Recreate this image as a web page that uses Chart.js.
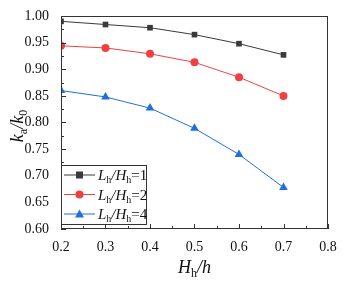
<!DOCTYPE html>
<html>
<head>
<meta charset="utf-8">
<script src="https://cdn.jsdelivr.net/npm/chart.js@4.4.1/dist/chart.umd.min.js"></script>
<style>
  html, body { margin: 0; padding: 0; background: #fff; }
  #wrap { width: 349px; height: 283px; }
</style>
</head>
<body>
<div id="wrap"><canvas id="kChart" width="349" height="283"></canvas></div>
<script>
// H_h/h values
const xVals = [0.2, 0.3, 0.4, 0.5, 0.6, 0.7];
// k_a/k_0 for each L_h/H_h ratio
const ratio1 = [0.990, 0.984, 0.978, 0.965, 0.948, 0.927];
const ratio2 = [0.944, 0.940, 0.929, 0.913, 0.885, 0.850];
const ratio4 = [0.860, 0.848, 0.827, 0.789, 0.740, 0.678];
const legendNums = ['1', '2', '4'];

const serif = '"Liberation Serif", "DejaVu Serif", serif';

function pts(arr) {
  return arr.map((v, i) => ({ x: xVals[i], y: v }));
}

// draw text with subscripts, parts = [[text, isSub, italic?], ...]
function drawRich(ctx, parts, x, y, size, italic) {
  let cx = x;
  parts.forEach(p => {
    const sub = p[1];
    const it = p[2] === undefined ? italic : p[2];
    ctx.font = (it ? 'italic ' : '') + (sub ? Math.round(size * 0.65) : size) + 'px ' + serif;
    ctx.fillText(p[0], cx, sub ? y + size * 0.22 : y);
    cx += ctx.measureText(p[0]).width;
  });
  return cx - x;
}
function richWidth(ctx, parts, size, italic) {
  let w = 0;
  parts.forEach(p => {
    const it = p[2] === undefined ? italic : p[2];
    ctx.font = (it ? 'italic ' : '') + (p[1] ? Math.round(size * 0.65) : size) + 'px ' + serif;
    w += ctx.measureText(p[0]).width;
  });
  return w;
}

const decor = {
  id: 'decor',
  afterDatasetsDraw(chart) {
    const ctx = chart.ctx;
    const a = chart.chartArea;
    const xs = chart.scales.x, ys = chart.scales.y;
    ctx.save();
    ctx.strokeStyle = '#333';
    ctx.lineWidth = 1;
    ctx.strokeRect(a.left + 0.5, a.top + 0.5, a.right - a.left - 1, a.bottom - a.top - 1);

    // inward ticks
    ctx.beginPath();
    for (let v = 0.2; v <= 0.8001; v += 0.05) {
      const px = Math.round(xs.getPixelForValue(v)) + 0.5;
      const major = Math.abs(Math.round(v * 10) - v * 10) < 1e-6;
      ctx.moveTo(px, a.bottom);
      ctx.lineTo(px, a.bottom - (major ? 5 : 3));
    }
    for (let v = 0.6; v <= 1.0001; v += 0.025) {
      const py = Math.round(ys.getPixelForValue(v)) + 0.5;
      const major = Math.abs(Math.round(v * 20) - v * 20) < 1e-6;
      ctx.moveTo(a.left, py);
      ctx.lineTo(a.left + (major ? 5 : 3), py);
    }
    ctx.stroke();

    ctx.fillStyle = '#111';
    ctx.textBaseline = 'alphabetic';
    // x title  H_h/h
    const xt = [['H', false], ['h', true, false], ['/h', false]];
    const xw = richWidth(ctx, xt, 18, true);
    drawRich(ctx, xt, (a.left + a.right) / 2 - xw / 2, 273, 18, true);

    // y title k_a/k_0
    const yt = [['k', false], ['a', true, false], ['/k', false], ['0', true, false]];
    const yw = richWidth(ctx, yt, 18, true);
    ctx.save();
    ctx.translate(23, 126);
    ctx.rotate(-Math.PI / 2);
    drawRich(ctx, yt, -yw / 2, 0, 18, true);
    ctx.restore();

    // legend
    const lx = a.left, ly = 165, lw = 85, lh = 59;
    ctx.fillStyle = '#fff';
    ctx.fillRect(lx, ly, lw, lh);
    ctx.strokeStyle = '#333';
    ctx.strokeRect(lx + 0.5, ly + 0.5, lw, lh);
    chart.data.datasets.forEach((ds, i) => {
      const ry = 175 + i * 19.5;
      ctx.strokeStyle = ds.borderColor;
      ctx.lineWidth = 1;
      ctx.beginPath();
      ctx.moveTo(lx + 3, ry);
      ctx.lineTo(lx + 34, ry);
      ctx.stroke();
      ctx.fillStyle = ds.backgroundColor;
      const mx = lx + 18.5;
      ctx.beginPath();
      if (ds.pointStyle === 'rect') {
        ctx.fillRect(mx - 3.5, ry - 3.5, 7, 7);
      } else if (ds.pointStyle === 'circle') {
        ctx.arc(mx, ry, 4, 0, Math.PI * 2);
        ctx.fill();
      } else {
        ctx.moveTo(mx, ry - 4.5);
        ctx.lineTo(mx + 4.5, ry + 3.5);
        ctx.lineTo(mx - 4.5, ry + 3.5);
        ctx.closePath();
        ctx.fill();
      }
      ctx.fillStyle = '#111';
      drawRich(ctx, [['L', false], ['h', true, false], ['/H', false], ['h', true, false], ['=' + legendNums[i], false, false]],
        lx + 37, ry + 5, 15, true);
    });
    ctx.restore();
  }
};

new Chart(document.getElementById('kChart').getContext('2d'), {
  type: 'line',
  data: {
    datasets: [
      { label: 'Lh/Hh=1', data: pts(ratio1), borderColor: '#3a3a3a', backgroundColor: '#3a3a3a',
        pointStyle: 'rect', pointRadius: 4 },
      { label: 'Lh/Hh=2', data: pts(ratio2), borderColor: '#f04040', backgroundColor: '#f04040',
        pointStyle: 'circle', pointRadius: 4 },
      { label: 'Lh/Hh=4', data: pts(ratio4), borderColor: '#1f6fe0', backgroundColor: '#1f6fe0',
        pointStyle: 'triangle', pointRadius: 5 }
    ]
  },
  options: {
    responsive: false,
    animation: false,
    elements: { line: { borderWidth: 1, tension: 0 }, point: { borderWidth: 0, hoverRadius: 4 } },
    layout: { padding: { left: 0, top: 16, right: 21, bottom: 0 } },
    plugins: { legend: { display: false }, tooltip: { enabled: false } },
    scales: {
      x: {
        type: 'linear', min: 0.2, max: 0.8,
        afterFit(s) { s.height = 54; },
        afterBuildTicks(s) { s.ticks = [0.2,0.3,0.4,0.5,0.6,0.7,0.8].map(v => ({ value: v })); },
        grid: { display: false },
        border: { display: false },
        ticks: { color: '#111', padding: 2, font: { family: serif, size: 14 },
          callback: v => v.toFixed(1) }
      },
      y: {
        min: 0.6, max: 1.0,
        afterFit(s) { s.width = 61; },
        afterBuildTicks(s) { s.ticks = [0.6,0.65,0.7,0.75,0.8,0.85,0.9,0.95,1.0].map(v => ({ value: v })); },
        grid: { display: false },
        border: { display: false },
        ticks: { color: '#111', padding: 4, font: { family: serif, size: 14 },
          callback: v => v.toFixed(2) }
      }
    }
  },
  plugins: [decor]
});
</script>
</body>
</html>
